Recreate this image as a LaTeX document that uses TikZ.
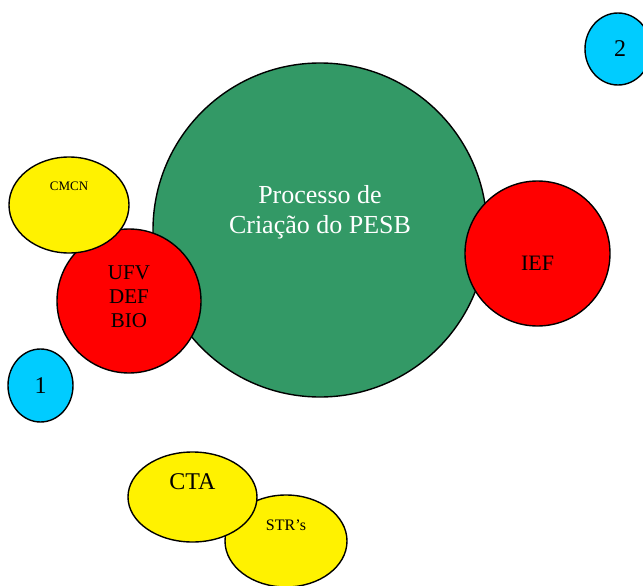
\documentclass[tikz,border=0pt]{standalone}
\usepackage{fontspec}
\setmainfont{Liberation Serif}
\usetikzlibrary{shapes.geometric}

\definecolor{seagreen}{RGB}{51,153,102}
\definecolor{skyblue}{RGB}{0,204,255}

\begin{document}
\begin{tikzpicture}[x=1pt,y=-1pt,line width=1.4pt]

      \useasboundingbox (0,0) rectangle (643,586);
      \clip (0,0) rectangle (643,586);

      \begin{scope}[every node/.style={ellipse,draw,inner sep=0pt}]
        \node[fill=seagreen,minimum width=334,minimum height=334] (pesb) at (320,230) {};
        \node[fill=red,minimum width=145,minimum height=145] (ief) at (537.5,253.5) {};
        \node[fill=red,minimum width=144,minimum height=144] (ufv) at (129,301) {};
        \node[fill=yellow,minimum width=120,minimum height=96] (cmcn) at (69,205) {};
        \node[fill=skyblue,minimum width=65,minimum height=73] (1) at (40.5,385.5) {};
        \node[fill=skyblue,minimum width=66,minimum height=72] (2) at (618,49) {};
        \node[fill=yellow,minimum width=122,minimum height=92] (str) at (286,541) {};
        \node[fill=yellow,minimum width=129,minimum height=90] (cta) at (192.5,497) {};
      \end{scope}

      \begin{scope}[every node/.style={align=center,inner sep=0pt}]
        \node[text=white,font=\fontsize{26}{30}\selectfont] (pesbtxt)
          at ([yshift=18]pesb.center) {Processo de\\Criação do PESB};
        \node[font=\fontsize{22}{24}\selectfont] (ieftxt) at ([yshift=-10]ief.center) {IEF};
        \node[font=\fontsize{21}{24}\selectfont] (ufvtxt) at ([yshift=4]ufv.center) {UFV\\DEF\\BIO};
        \node[font=\fontsize{13}{15}\selectfont] (cmcntxt) at ([yshift=19]cmcn.center) {CMCN};
        \node[font=\fontsize{24}{26}\selectfont] (1txt) at (1.center) {1};
        \node[font=\fontsize{24}{26}\selectfont] (2txt) at ([xshift=2]2.center) {2};
        \node[font=\fontsize{24}{26}\selectfont] (ctatxt) at ([yshift=15]cta.center) {CTA};
        \node[font=\fontsize{16}{18}\selectfont] (strtxt) at ([yshift=16]str.center) {STR’s};
      \end{scope}

    \end{tikzpicture}
\end{document}
